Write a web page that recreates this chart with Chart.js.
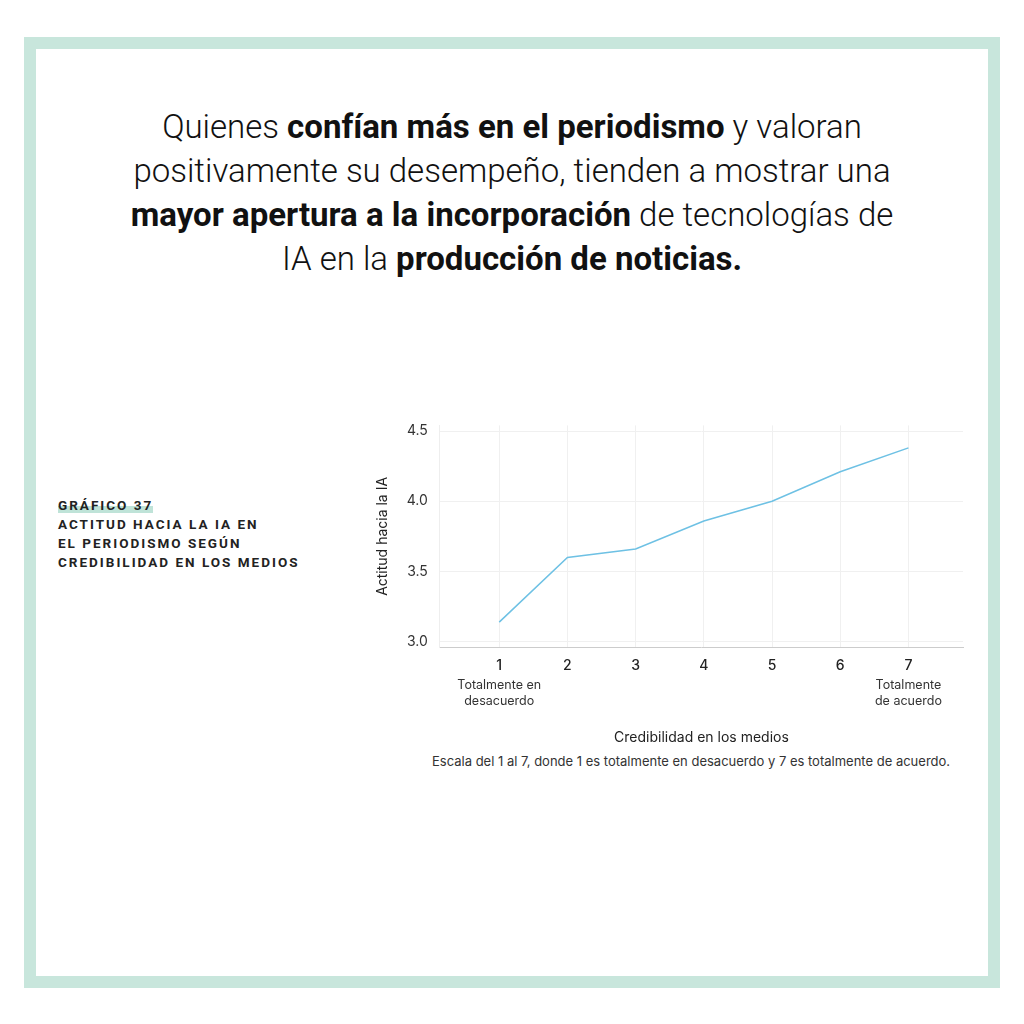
<!DOCTYPE html>
<html><head><meta charset="utf-8">
<script src="https://cdn.jsdelivr.net/npm/chart.js@4/dist/chart.umd.min.js"></script>
<style>
body{margin:0;background:#fff;}
#frame{position:absolute;left:24px;top:37px;width:952px;height:927px;border:12px solid #c8e6dc;background:#fff;}
#title{position:absolute;left:40px;top:105px;width:944px;text-align:center;font-family:Roboto,sans-serif;font-weight:300;font-size:33px;line-height:44px;color:#111;white-space:nowrap;}
#title b{font-weight:700;}
#lab{position:absolute;left:58px;top:496px;font-family:Roboto,sans-serif;font-weight:700;font-size:13.5px;letter-spacing:2px;line-height:19px;color:#222;}
#lab .t{background:linear-gradient(transparent 55%,#bfe3d8 55%);}
#wrap{position:absolute;left:370px;top:405px;width:605px;height:345px;}
#cap{position:absolute;left:432px;top:753px;font-family:Inter,sans-serif;font-size:13px;color:#333;}
</style></head><body>
<div id="frame"></div>
<div id="title">Quienes <b>confían más en el periodismo</b> y valoran<br>positivamente su desempeño, tienden a mostrar una<br><b>mayor apertura a la incorporación</b> de tecnologías de<br>IA en la <b>producción de noticias.</b></div>
<div id="lab"><span class="t">GRÁFICO 37</span><br>ACTITUD HACIA LA IA EN<br>EL PERIODISMO SEGÚN<br>CREDIBILIDAD EN LOS MEDIOS</div>
<div id="wrap"><canvas id="c"></canvas></div>
<div id="cap">Escala del 1 al 7, donde 1 es totalmente en desacuerdo y 7 es totalmente de acuerdo.</div>
<script>
const credibilidad=[1,2,3,4,5,6,7];
const actitud=[3.14,3.60,3.66,3.86,4.00,4.21,4.38];
const yTicks=[3.0,3.5,4.0,4.5];
const extremeLabels={1:['Totalmente en','desacuerdo'],7:['Totalmente','de acuerdo']};
const extra={id:'extra',afterDraw(ch){const c=ch.ctx,x=ch.scales.x;c.save();c.font='12.5px Inter, sans-serif';c.fillStyle='#333';c.textAlign='center';
for(const k in extremeLabels){const px=x.getPixelForValue(+k);extremeLabels[k].forEach((s,i)=>c.fillText(s,px,ch.chartArea.bottom+42+i*16));}c.restore();}};
new Chart(document.getElementById('c'),{type:'line',
data:{datasets:[{data:credibilidad.map((v,i)=>({x:v,y:actitud[i]})),borderColor:'#6ec1e4',borderWidth:1.5,pointRadius:0,tension:0}]},
options:{responsive:true,maintainAspectRatio:false,animation:false,
plugins:{legend:{display:false},tooltip:{enabled:false}},
layout:{padding:{top:5,right:12}},
scales:{
x:{type:'linear',min:0.13,max:7.8,afterBuildTicks:s=>{s.ticks=credibilidad.map(v=>({value:v}));},
grid:{color:'#f0f0f0',drawTicks:false},border:{color:'#ccc'},
ticks:{padding:10,font:{family:'Inter',size:14,weight:'500'},color:'#222'},
title:{display:true,text:'Credibilidad en los medios',font:{family:'Inter',size:14},color:'#222',padding:{top:45}}},
y:{min:2.96,max:4.54,afterBuildTicks:s=>{s.ticks=yTicks.map(v=>({value:v}));},
grid:{color:'#f0f0f0',drawTicks:false},border:{color:'#eee'},
ticks:{padding:12,font:{family:'Inter',size:14},color:'#333',callback:v=>v.toFixed(1)},
title:{display:true,text:'Actitud hacia la IA',font:{family:'Inter',size:14},color:'#222'}}}},
plugins:[extra]});
</script></body></html>
